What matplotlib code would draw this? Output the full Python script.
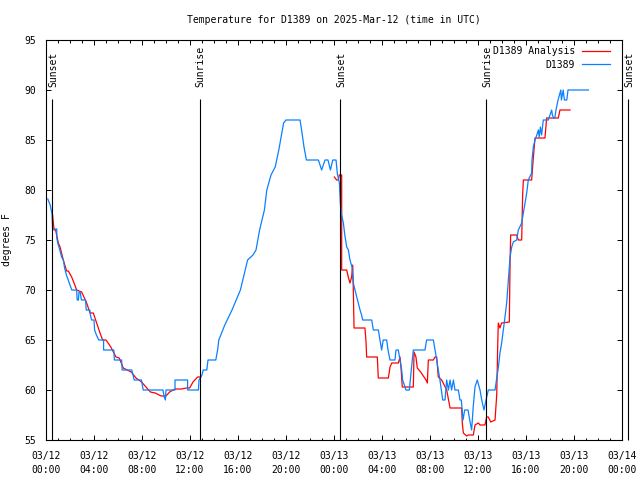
import numpy as np
import matplotlib
matplotlib.use('Agg')
import matplotlib.pyplot as plt
from matplotlib.ticker import MultipleLocator

plt.rcParams['font.family'] = ['DejaVu Sans Mono']
plt.rcParams['font.size'] = 7

title = "Temperature for D1389 on 2025-Mar-12 (time in UTC)"

# hours since 2025-03-12 00:00 UTC
obs_t = [0.15, 0.35, 0.5, 0.55, 0.9, 0.9, 1.0, 1.15, 1.3, 1.45, 1.55, 1.7, 1.85, 2.0, 2.15, 2.55, 2.6, 2.7, 2.75,
         2.85, 2.95, 3.3, 3.35, 3.65, 3.7, 3.8, 4.0, 4.05, 4.2, 4.4, 4.8, 4.8, 5.65, 5.7, 6.3, 6.35, 7.15, 7.35,
         7.95, 8.1, 9.75, 9.85, 9.95, 10.0, 10.75, 10.75, 11.8, 11.8, 12.7, 12.75, 13.0, 13.1, 13.4, 13.5, 14.15,
         14.3, 14.4, 14.9, 15.5, 16.2, 16.6, 16.8, 17.25, 17.5, 17.8, 18.2, 18.4, 18.75, 19.1, 19.4, 19.7, 19.8,
         20.0, 21.17, 21.3, 21.5, 21.7, 22.7, 22.97, 23.25, 23.5, 23.7, 23.9, 24.17, 24.28, 24.45, 24.53, 24.6,
         24.78, 24.9, 25.06, 25.2, 25.33, 25.5, 25.61, 25.75, 25.9, 26.03, 26.17, 26.3, 26.39, 27.14, 27.28,
         27.7, 27.83, 27.97, 28.1, 28.39, 28.5, 28.67, 29.08, 29.17, 29.36, 29.5, 29.64, 29.72, 30.0, 30.28,
         30.36, 30.44, 30.61, 31.58, 31.72, 32.28, 32.42, 32.56, 32.69, 32.83, 33.06, 33.25, 33.39, 33.53,
         33.67, 33.8, 33.95, 34.08, 34.36, 34.5, 34.61, 34.75, 34.89, 35.17, 35.31, 35.47, 35.6, 35.75, 35.94,
         36.17, 36.31, 36.5, 36.67, 36.86, 37.42, 37.56, 37.69, 37.83, 37.97, 38.11, 38.25, 38.39, 38.53, 38.67,
         38.81, 38.94, 39.22, 39.36, 39.64, 39.78, 39.92, 40.06, 40.19, 40.47, 40.5, 40.61, 40.75, 40.9, 41.03,
         41.1, 41.2, 41.3, 41.44, 41.86, 42.14, 42.2, 42.3, 42.4, 42.5, 42.67, 42.9, 42.95, 43.1, 43.2, 43.4,
         43.5, 45.2]
obs_T = [79.1, 78.5, 77.6, 76.1, 76.1, 75.2, 74.6, 74.0, 73.3, 73.0, 72.2, 71.5, 71.0, 70.5, 70.0, 70.0, 69.0, 69.0,
         69.8, 69.8, 69.0, 69.0, 68.0, 68.0, 67.5, 67.0, 67.0, 66.0, 65.5, 65.0, 65.0, 64.0, 64.0, 63.0, 63.0, 62.0,
         62.0, 61.0, 61.0, 60.0, 60.0, 59.3, 59.0, 60.0, 60.0, 61.0, 61.0, 60.0, 60.0, 61.0, 61.5, 62.0, 62.0, 63.0,
         63.0, 64.0, 65.0, 66.5, 68.0, 70.0, 72.0, 73.0, 73.5, 74.0, 76.0, 78.0, 80.0, 81.5, 82.3, 84.0, 86.0, 86.7,
         87.0, 87.0, 86.0, 84.3, 83.0, 83.0, 82.0, 83.0, 83.0, 82.0, 83.0, 83.0, 81.6, 80.7, 78.7, 77.7,
         76.7, 75.5, 74.3, 74.0, 73.0, 72.3, 70.7, 70.0, 69.3, 68.7, 68.0, 67.5, 67.0, 67.0, 66.0,
         66.0, 65.0, 64.0, 65.0, 65.0, 64.0, 63.0, 63.0, 64.0, 64.0, 63.0, 62.0, 61.0, 60.0, 60.0,
         61.0, 62.0, 64.0, 64.0, 65.0, 65.0, 64.0, 63.0, 62.0, 61.0, 59.0, 59.0, 61.0, 60.0,
         61.0, 60.0, 61.0, 60.0, 60.0, 59.0, 59.0, 57.0, 58.0, 58.0, 57.0, 56.0, 58.3, 60.3, 61.0,
         60.0, 59.0, 58.0, 59.0, 60.0, 60.0, 61.2, 62.2, 63.7, 64.7, 66.0, 67.3, 68.7, 71.0, 73.3,
         74.3, 74.8, 75.0, 76.0, 76.7, 77.7, 78.7, 79.7, 81.0, 81.7, 83.0, 84.3, 85.0, 85.5, 86.0,
         85.3, 86.3, 85.5, 87.0, 87.0, 88.0, 87.5, 87.2, 87.2, 88.0, 89.0, 90.0, 89.0, 90.0, 89.0, 89.0,
         90.0, 90.0]

ana1_t = [0.55, 0.67, 0.8, 1.03, 1.17, 1.44, 1.72, 1.86, 2.14, 2.56, 2.97, 3.39, 3.67, 3.94, 4.5, 4.72, 5.0, 5.4,
          5.83, 6.1, 6.44, 7.1, 7.5, 7.97, 8.4, 8.7, 9.1, 9.6, 10.0, 10.3, 10.75, 11.3, 11.7, 11.97, 12.25, 12.64,
          12.9]
ana1_T = [77.5, 76.0, 76.0, 74.7, 74.3, 73.0, 71.9, 71.9, 71.3, 70.0, 69.8, 68.7, 67.7, 67.7, 65.7, 65.0, 65.0, 64.3,
          63.3, 63.2, 62.2, 61.8, 61.2, 60.8, 60.2, 59.8, 59.7, 59.4, 59.4, 59.8, 60.1, 60.1, 60.2, 60.2, 60.8, 61.3,
          61.3]
ana2_t = [24.03, 24.22, 24.36, 24.44, 24.56, 24.64, 24.64, 25.06, 25.19, 25.33, 25.47, 25.56, 25.61, 25.67, 26.58,
          26.67, 26.72, 27.61, 27.69, 28.53, 28.67, 28.81, 29.36, 29.5, 29.58, 29.69, 30.61, 30.67, 30.83, 30.94,
          31.22, 31.5, 31.67, 31.78, 31.86, 32.28, 32.42, 32.56, 32.69, 32.97, 33.39, 33.67, 34.64, 34.69, 34.78,
          35.06, 35.19, 35.61, 35.75, 36.03, 36.17, 36.58, 36.72, 36.86, 37.06, 37.42, 37.56, 37.64, 37.69, 37.83,
          37.97, 38.61, 38.67, 38.72, 39.22, 39.36, 39.64, 39.72, 39.78, 40.47, 40.61, 40.75, 41.58, 41.72, 42.69,
          42.83, 43.67]
ana2_T = [81.3, 81.0, 81.0, 81.5, 81.5, 81.5, 72.0, 72.0, 71.3, 70.7, 71.3, 72.5, 70.0, 66.2, 66.2,
          64.8, 63.3, 63.3, 61.2, 61.2, 62.3, 62.7, 62.7, 63.3, 62.3, 60.3, 60.3, 63.8, 63.3, 62.2,
          61.8, 61.3, 61.0, 60.7, 63.0, 63.0, 63.3, 63.3, 61.3, 61.0, 60.0, 58.2, 58.2, 56.7, 55.7,
          55.4, 55.5, 55.5, 56.5, 56.7, 56.5, 56.5, 57.3, 57.3, 56.8, 57.0, 59.5, 64.3, 66.7, 66.2,
          66.7, 66.8, 72.5, 75.5, 75.5, 75.0, 75.0, 79.5, 81.0, 81.0, 83.2, 85.2, 85.2, 87.2, 87.2,
          88.0, 88.0]

sun_t = [0.53, 12.8, 24.5, 36.7, 48.5]
sun_lab = ['Sunset', 'Sunrise', 'Sunset', 'Sunrise', 'Sunset']

tick_hours = list(range(0, 49, 4))
tick_labels = ['03/12\n00:00', '03/12\n04:00', '03/12\n08:00', '03/12\n12:00', '03/12\n16:00', '03/12\n20:00',
               '03/13\n00:00', '03/13\n04:00', '03/13\n08:00', '03/13\n12:00', '03/13\n16:00', '03/13\n20:00',
               '03/14\n00:00']
y_ticks = [55, 60, 65, 70, 75, 80, 85, 90, 95]

fig = plt.figure(figsize=(6.4, 4.8), dpi=100)
ax = fig.add_axes([46 / 640, 40 / 480, 576 / 640, 400 / 480])

red = '#ff0000'
blue = '#0a80ff'
ax.plot(ana1_t, ana1_T, color=red, lw=0.9, label='D1389 Analysis')
ax.plot(ana2_t, ana2_T, color=red, lw=0.9)
ax.plot(obs_t, obs_T, color=blue, lw=0.9, label='D1389')

ax.vlines(sun_t, 55, 89.1, colors='k', lw=0.8, clip_on=False)
for t, lab in zip(sun_t, sun_lab):
    ax.text(t + 0.1, 90.3, lab, rotation=90, ha='center', va='bottom', clip_on=False)

ax.set_xlim(0, 48)
ax.set_ylim(55, 95)
ax.set_xticks(tick_hours)
ax.set_xticklabels(tick_labels, linespacing=1.45)
ax.xaxis.set_minor_locator(MultipleLocator(1))
ax.set_yticks(y_ticks)
ax.tick_params(which='both', direction='in', top=True, right=True, width=0.7, colors='k')
ax.tick_params(which='major', length=3.6)
ax.tick_params(which='minor', length=1.8)
ax.tick_params(axis='x', pad=8)
ax.tick_params(axis='y', pad=7)
for s in ax.spines.values():
    s.set_linewidth(0.8)

ax.set_ylabel('degrees F')
ax.yaxis.set_label_coords(-0.059, 0.5)

fig.text(334 / 640, 1 - 20 / 480, title, ha='center', va='center')

ax.legend(loc='upper right', bbox_to_anchor=(0.979, 0.984), markerfirst=False, frameon=False,
          handlelength=2.9, handletextpad=0.7, labelspacing=0.35, borderpad=0, borderaxespad=0)

fig.savefig('out.png', dpi=100)
